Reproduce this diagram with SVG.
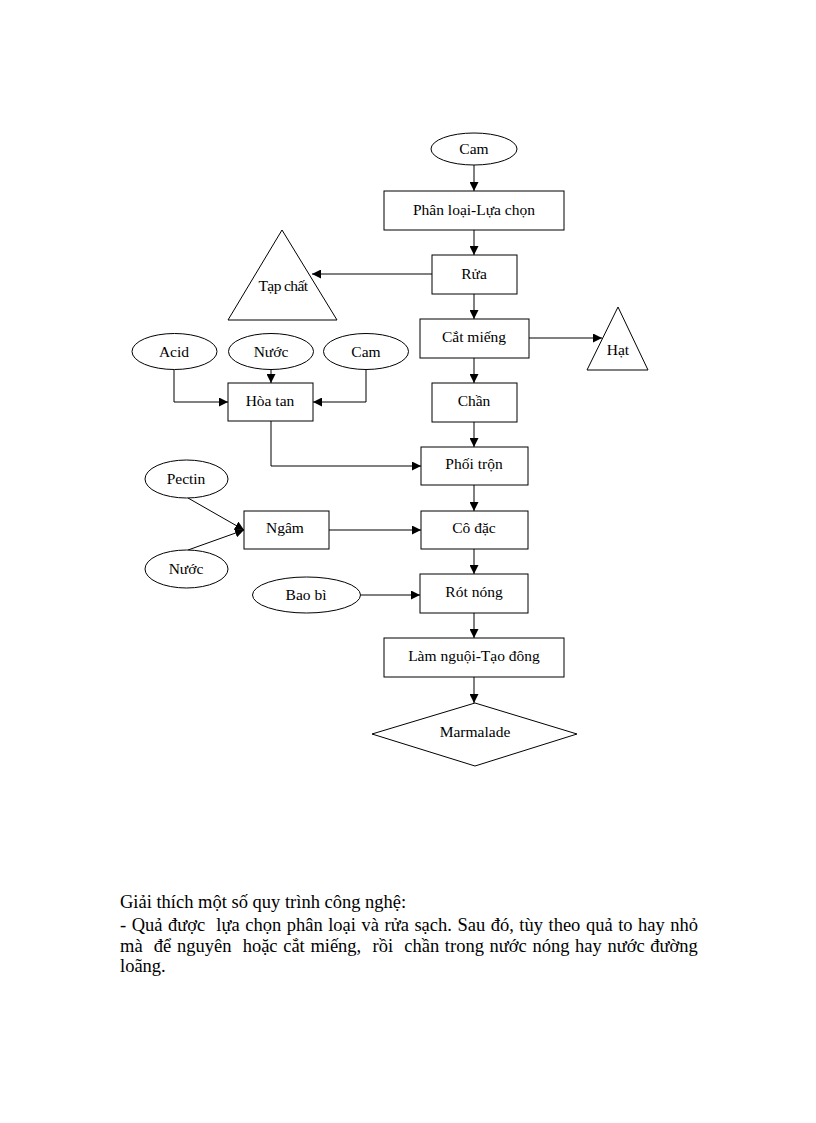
<svg xmlns="http://www.w3.org/2000/svg" width="816" height="1123" viewBox="0 0 816 1123">
<style>
.s{fill:#fff;stroke:#000;stroke-width:1}
.t{font-family:"Liberation Serif","Times New Roman",serif;font-size:15.5px;fill:#000;text-anchor:middle}
.c{fill:none;stroke:#000;stroke-width:1}
.p{font-family:"Liberation Serif","Times New Roman",serif;font-size:18.5px;fill:#000;white-space:pre}
</style>
<defs>
<marker id="a" viewBox="0 0 10 10" refX="10" refY="5" markerWidth="9" markerHeight="9" markerUnits="userSpaceOnUse" orient="auto">
<path d="M0,0 L10,5 L0,10 z" fill="#000"/>
</marker>
</defs>
<rect width="816" height="1123" fill="#fff"/>
<g id="connectors">
<path class="c" d="M474,165 V191" marker-end="url(#a)"/>
<path class="c" d="M474,230 V255" marker-end="url(#a)"/>
<path class="c" d="M432,274 H312" marker-end="url(#a)"/>
<path class="c" d="M474,294 V319" marker-end="url(#a)"/>
<path class="c" d="M529,338 H602" marker-end="url(#a)"/>
<path class="c" d="M474,358 V383" marker-end="url(#a)"/>
<path class="c" d="M474,422 V447" marker-end="url(#a)"/>
<path class="c" d="M174,370 V402 H228" marker-end="url(#a)"/>
<path class="c" d="M271,370 V383" marker-end="url(#a)"/>
<path class="c" d="M366,370 V402 H313" marker-end="url(#a)"/>
<path class="c" d="M271,421 V466 H421" marker-end="url(#a)"/>
<path class="c" d="M188,498 L244,530" marker-end="url(#a)"/>
<path class="c" d="M188,550 L244,530" marker-end="url(#a)"/>
<path class="c" d="M329,530 H421" marker-end="url(#a)"/>
<path class="c" d="M474,485 V511" marker-end="url(#a)"/>
<path class="c" d="M474,549 V574" marker-end="url(#a)"/>
<path class="c" d="M361,595 H420" marker-end="url(#a)"/>
<path class="c" d="M474,613 V638" marker-end="url(#a)"/>
<path class="c" d="M474,677 V703" marker-end="url(#a)"/>
</g>
<g id="n-cam"><ellipse class="s" cx="474" cy="149" rx="43" ry="16"/><text class="t" x="474" y="154">Cam</text></g>
<g id="n-phanloai"><rect class="s" x="384" y="191" width="180" height="39"/><text class="t" x="474" y="215">Phân loại-Lựa  chọn</text></g>
<g id="n-rua"><rect class="s" x="432" y="255" width="85" height="39"/><text class="t" x="474" y="279">Rửa</text></g>
<g id="n-tapchat"><polygon class="s" points="282,230 337,320 228,320"/><text class="t" x="283" y="291" style="letter-spacing:-0.6px">Tạp chất</text></g>
<g id="n-catmieng"><rect class="s" x="420" y="319" width="109" height="39"/><text class="t" x="474" y="342">Cắt miếng</text></g>
<g id="n-hat"><polygon class="s" points="618,307 648,370 587,370"/><text class="t" x="618" y="355">Hạt</text></g>
<g id="n-acid"><ellipse class="s" cx="174.5" cy="351.5" rx="42.5" ry="18"/><text class="t" x="174" y="357">Acid</text></g>
<g id="n-nuoc1"><ellipse class="s" cx="271" cy="351.5" rx="42.5" ry="18"/><text class="t" x="271" y="357">Nước</text></g>
<g id="n-cam2"><ellipse class="s" cx="366" cy="351.5" rx="42.5" ry="18"/><text class="t" x="366" y="357">Cam</text></g>
<g id="n-hoatan"><rect class="s" x="228" y="383" width="85" height="38"/><text class="t" x="270" y="406">Hòa tan</text></g>
<g id="n-chan"><rect class="s" x="432" y="383" width="85" height="39"/><text class="t" x="474" y="406">Chần</text></g>
<g id="n-phoitron"><rect class="s" x="421" y="447" width="107" height="38"/><text class="t" x="474" y="469">Phối  trộn</text></g>
<g id="n-pectin"><ellipse class="s" cx="186.5" cy="479" rx="41.5" ry="19"/><text class="t" x="186" y="484">Pectin</text></g>
<g id="n-nuoc2"><ellipse class="s" cx="186.5" cy="569" rx="41.5" ry="19"/><text class="t" x="186" y="574">Nước</text></g>
<g id="n-ngam"><rect class="s" x="244" y="511" width="85" height="38"/><text class="t" x="285" y="533">Ngâm</text></g>
<g id="n-codac"><rect class="s" x="421" y="511" width="107" height="38"/><text class="t" x="474" y="533">Cô đặc</text></g>
<g id="n-baobi"><ellipse class="s" cx="306.5" cy="595" rx="54" ry="18"/><text class="t" x="306" y="600">Bao bì</text></g>
<g id="n-rotnong"><rect class="s" x="420" y="574" width="108" height="39"/><text class="t" x="474" y="597">Rót nóng</text></g>
<g id="n-lamnguoi"><rect class="s" x="384" y="638" width="180" height="39"/><text class="t" x="474" y="661">Làm nguội-Tạo  đông</text></g>
<g id="n-marmalade"><polygon class="s" points="475,703 577,734 475,766 372,734"/><text class="t" x="475" y="737">Marmalade</text></g>
<text class="p" x="120" y="908">Giải thích một số quy trình công nghệ:</text>
<text class="p" x="120" y="931" xml:space="preserve" style="word-spacing:0.9px">- Quả được  lựa chọn phân loại và rửa sạch. Sau đó, tùy theo quả to hay nhỏ</text>
<text class="p" x="120" y="952" xml:space="preserve" style="word-spacing:1.0px">mà  để nguyên  hoặc cắt miếng,  rồi  chần trong nước nóng hay nước đường</text>
<text class="p" x="120" y="972">loãng.</text>
</svg>
